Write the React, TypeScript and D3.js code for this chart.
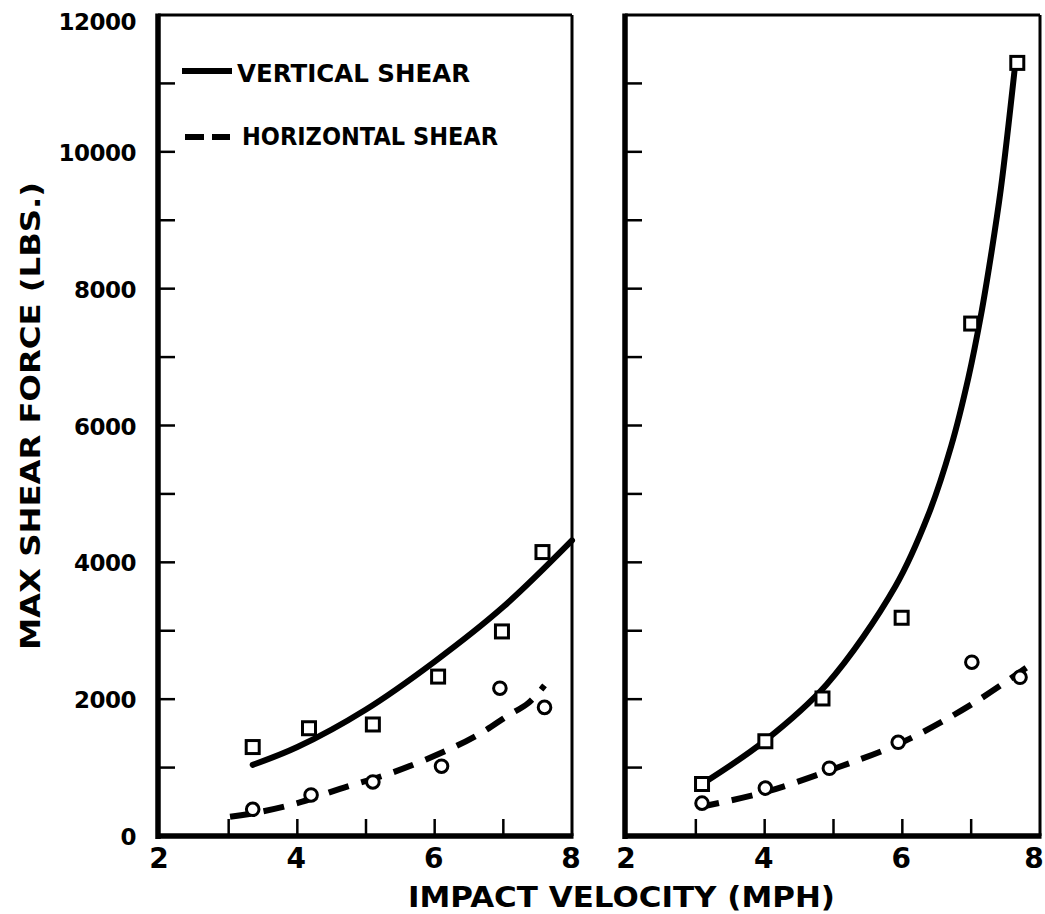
import React from "react";
import * as d3 from "d3";

// ---- data ----
const yTickValues = [0, 1000, 2000, 3000, 4000, 5000, 6000, 7000, 8000, 9000, 10000, 11000, 12000];
const yLabelValues = [0, 2000, 4000, 6000, 8000, 10000, 12000];
const xTickValues = [3, 4, 5, 6, 7];
const xLabelValues = [2, 4, 6, 8];

// left panel
const leftSquareX = [3.35, 4.17, 5.1, 6.05, 6.98, 7.57];
const leftSquareY = [1300, 1575, 1630, 2330, 2990, 4150];
const leftCircleX = [3.35, 4.2, 5.1, 6.1, 6.95, 7.6];
const leftCircleY = [390, 600, 790, 1020, 2160, 1880];
const leftVertFitX = [3.35, 4, 5, 6, 7, 8];
const leftVertFitY = [1040, 1300, 1850, 2550, 3350, 4320];
const leftHorzFitX = [3.02, 3.4, 4, 4.62, 5.39, 6.22, 6.7, 7.05, 7.36, 7.6];
const leftHorzFitY = [280, 340, 480, 690, 930, 1270, 1520, 1750, 1940, 2200];

// right panel
const rightSquareX = [3.09, 4.01, 4.84, 5.99, 7.0, 7.67];
const rightSquareY = [760, 1385, 2010, 3190, 7490, 11300];
const rightCircleX = [3.09, 4.01, 4.94, 5.94, 7.01, 7.71];
const rightCircleY = [480, 700, 990, 1370, 2540, 2320];
const rightVertFitX = [3.09, 4.0, 4.9, 5.9, 6.38, 6.71, 6.96, 7.14, 7.29, 7.43, 7.64];
const rightVertFitY = [760, 1390, 2215, 3650, 4700, 5700, 6700, 7600, 8500, 9450, 11280];
const rightHorzFitX = [3.04, 4.0, 5.0, 6.0, 7.0, 7.8];
const rightHorzFitY = [420, 640, 980, 1370, 1920, 2460];

const legendLabels = ["VERTICAL SHEAR", "HORIZONTAL SHEAR"];
const xTitle = "IMPACT VELOCITY (MPH)";
const yTitle = "MAX SHEAR FORCE (LBS.)";

const W = 1045;
const H = 914;
const FONT = "DejaVu Sans, Verdana, sans-serif";

const y = d3.scaleLinear().domain([0, 12000]).range([836, 15]);
const xLeft = d3.scaleLinear().domain([2, 8]).range([160, 572]);
const xRight = d3.scaleLinear().domain([2, 8]).range([627, 1040]);

const zip = (xs: number[], ys: number[]) => xs.map((v, i) => [v, ys[i]] as [number, number]);

function Panel({ x, sqX, sqY, ciX, ciY, vX, vY, hX, hY, showYLabels }: any) {
  const line = d3
    .line<[number, number]>()
    .x((d) => x(d[0]))
    .y((d) => y(d[1]))
    .curve(d3.curveCatmullRom.alpha(0.5));
  const x0 = x(2) - 2;
  const x1 = x(8);
  const y0 = y(0);
  const y1 = y(12000);
  return (
    <g>
      {/* frame */}
      <line x1={x0} x2={x1} y1={y1} y2={y1} stroke="#000" strokeWidth={3} />
      <line x1={x1} x2={x1} y1={y1} y2={y0} stroke="#000" strokeWidth={3} />
      <line x1={x0} x2={x0} y1={y1 - 1.5} y2={y0 + 3} stroke="#000" strokeWidth={5.5} />
      <line x1={x0 - 2} x2={x1 + 1.5} y1={y0} y2={y0} stroke="#000" strokeWidth={5.5} />
      {/* y ticks */}
      {yTickValues.slice(1, -1).map((v) => (
        <line key={v} x1={x0} x2={x0 + 17} y1={y(v)} y2={y(v)} stroke="#000" strokeWidth={2.5} />
      ))}
      {/* x ticks */}
      {xTickValues.map((v) => (
        <line key={v} x1={x(v)} x2={x(v)} y1={y0} y2={y0 - 17} stroke="#000" strokeWidth={2.5} />
      ))}
      {/* x labels */}
      {xLabelValues.map((v) => (
        <text key={v} x={Math.min(x(v) - 1, 1034)} y={868} textAnchor="middle" fontFamily={FONT} fontWeight="bold" fontSize={28}>
          {v}
        </text>
      ))}
      {showYLabels &&
        yLabelValues.map((v) => (
          <text key={v} x={136} y={y(v) + (v === 12000 ? 15 : 9)} textAnchor="end" fontFamily={FONT} fontWeight="bold" fontSize={23} letterSpacing={-0.5}>
            {v}
          </text>
        ))}
      {/* fitted curves */}
      <path d={line(zip(vX, vY)) || ""} fill="none" stroke="#000" strokeWidth={6} strokeLinecap="round" />
      <path d={line(zip(hX, hY)) || ""} fill="none" stroke="#000" strokeWidth={6} strokeDasharray="21 13" strokeLinecap="butt" />
      {/* markers */}
      {sqX.map((v: number, i: number) => (
        <rect key={"s" + i} x={x(v) - 6.5} y={y(sqY[i]) - 6.5} width={13} height={13} fill="#fff" stroke="#000" strokeWidth={3} />
      ))}
      {ciX.map((v: number, i: number) => (
        <circle key={"c" + i} cx={x(v)} cy={y(ciY[i])} r={6.3} fill="#fff" stroke="#000" strokeWidth={3} />
      ))}
    </g>
  );
}

export default function App() {
  return (
    <svg width={W} height={H} style={{ position: "absolute", left: 0, top: 0, background: "#fff" }}>
      <rect width={W} height={H} fill="#fff" />
      <Panel x={xLeft} sqX={leftSquareX} sqY={leftSquareY} ciX={leftCircleX} ciY={leftCircleY} vX={leftVertFitX} vY={leftVertFitY} hX={leftHorzFitX} hY={leftHorzFitY} showYLabels />
      <Panel x={xRight} sqX={rightSquareX} sqY={rightSquareY} ciX={rightCircleX} ciY={rightCircleY} vX={rightVertFitX} vY={rightVertFitY} hX={rightHorzFitX} hY={rightHorzFitY} showYLabels={false} />
      {/* legend */}
      <line x1={182} x2={232} y1={71} y2={71} stroke="#000" strokeWidth={6} />
      <text x={237} y={82} fontFamily={FONT} fontWeight="bold" fontSize={24} textLength={233} lengthAdjust="spacingAndGlyphs">
        {legendLabels[0]}
      </text>
      <line x1={185} x2={230} y1={137} y2={137} stroke="#000" strokeWidth={6} strokeDasharray="19 8" />
      <text x={242} y={145} fontFamily={FONT} fontWeight="bold" fontSize={24} textLength={256} lengthAdjust="spacingAndGlyphs">
        {legendLabels[1]}
      </text>
      {/* axis titles */}
      <text x={408} y={907} fontFamily={FONT} fontWeight="bold" fontSize={29} textLength={427} lengthAdjust="spacingAndGlyphs">
        {xTitle}
      </text>
      <text transform="translate(40,650) rotate(-90)" x={0} y={0} fontFamily={FONT} fontWeight="bold" fontSize={27} textLength={468} lengthAdjust="spacingAndGlyphs">
        {yTitle}
      </text>
    </svg>
  );
}
